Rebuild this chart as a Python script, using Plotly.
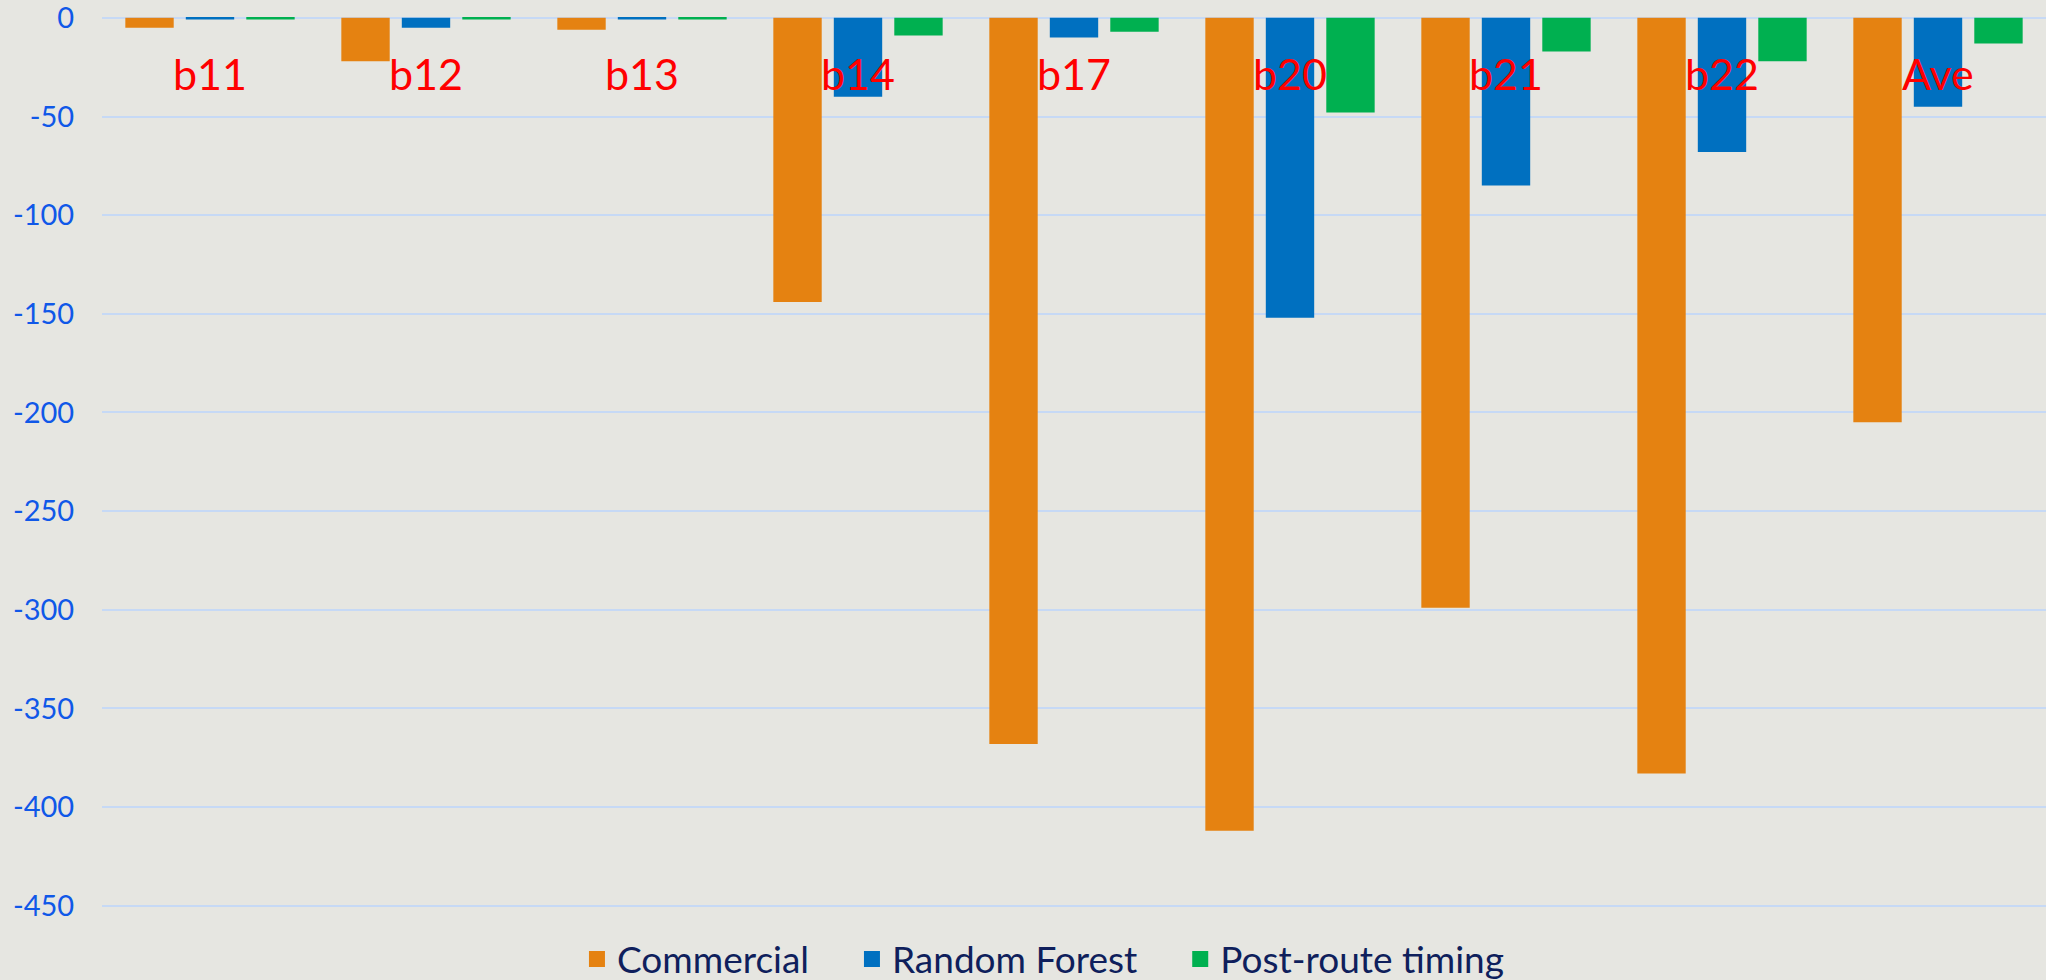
import plotly.graph_objects as go

# Benchmarks and per-method values
categories = ["b11", "b12", "b13", "b14", "b17", "b20", "b21", "b22", "Ave"]
commercial = [-5, -22, -6, -144, -368, -412, -299, -383, -205]
random_forest = [-0.8, -5, -0.8, -40, -10, -152, -85, -68, -45]
post_route = [-0.8, -0.8, -0.8, -9, -7, -48, -17, -22, -13]
y_ticks = [0, -50, -100, -150, -200, -250, -300, -350, -400, -450]

series = [
    ("Commercial", commercial, "#E58211"),
    ("Random Forest", random_forest, "#0070C0"),
    ("Post-route timing", post_route, "#00B050"),
]

fig = go.Figure()
for name, vals, color in series:
    fig.add_trace(go.Bar(
        x=categories, y=vals, name=name, showlegend=False,
        marker=dict(color=color, line=dict(width=0)),
    ))

# Legend entries with larger square swatches
for i, (name, vals, color) in enumerate(series):
    pad = "\u00a0" * 4 if i < len(series) - 1 else ""
    fig.add_trace(go.Scatter(
        x=[None], y=[None], mode="markers", name=name + pad,
        marker=dict(symbol="square", size=21, color=color),
    ))

# Category names drawn just beneath the zero line
for cat in categories:
    fig.add_annotation(
        x=cat, y=0, xref="x", yref="y", text=cat, showarrow=False,
        yshift=-56, yanchor="middle",
        font=dict(family="Lato", size=43, color="#FF0000"),
    )

bg = "#E6E6E1"
fig.update_layout(
    width=2046, height=980,
    paper_bgcolor=bg, plot_bgcolor=bg,
    margin=dict(l=102, r=0, t=8, b=50, autoexpand=False),
    barmode="group", bargap=0.16, bargroupgap=0.2,
    showlegend=True,
    legend=dict(
        orientation="h", xref="container", x=0.51, xanchor="center",
        yref="container", y=0.021, yanchor="middle",
        font=dict(family="Lato", size=37, color="#0F1F5C"),
        bgcolor="rgba(0,0,0,0)", itemwidth=30, tracegroupgap=0,
    ),
    xaxis=dict(showticklabels=False, showgrid=False, zeroline=False,
               showline=False, ticks=""),
    yaxis=dict(
        range=[-462.3, 5], tickvals=y_ticks,
        ticktext=[str(v) for v in y_ticks],
        showgrid=True, gridcolor="#C6D9F5", gridwidth=2,
        zeroline=False, showline=False,
        ticks="outside", ticklen=21, tickcolor="rgba(0,0,0,0)",
        ticklabeloverflow="allow",
        tickfont=dict(family="Lato", size=29, color="#1058E8"),
    ),
)

fig.write_html("out.html")
